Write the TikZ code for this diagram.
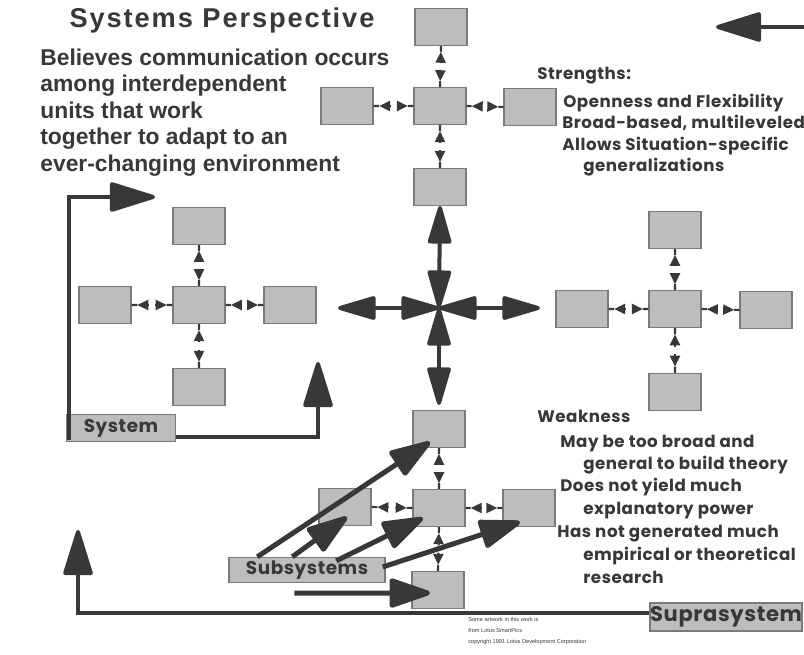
\documentclass[tikz,border=0pt]{standalone}
\usepackage{fontspec}
\setmainfont{Liberation Sans}
\newfontfamily\titlefont[LetterSpace=7]{Liberation Sans}
\newfontfamily\geo[LetterSpace=3]{Poppins}
\usetikzlibrary{arrows.meta,calc}

\definecolor{ink}{HTML}{383838}
\definecolor{unitfill}{HTML}{BDBDBD}
\definecolor{unitline}{HTML}{7A7A7A}

\tikzset{
  unit/.style={draw=unitline, fill=unitfill, line width=0.6pt,
    minimum width=1.04cm, minimum height=0.74cm, inner sep=0pt},
  tag/.style={draw=unitline, fill=unitfill, line width=0.8pt, inner sep=0pt, text=ink},
  thinlink/.style={draw=ink, line width=1.2pt},
  smalltip/.style={-{Triangle[length=0.22cm,width=0.2cm]}},
  arm/.style={draw=ink, line width=0.08cm,
    {Triangle[length=0.86cm,width=0.48cm,round]}-{Triangle[length=0.86cm,width=0.48cm,round]}},
  bigarrow/.style={draw=ink, line width=0.08cm,
    -{Triangle[length=1cm,width=0.6cm,round]}},
  subarrow/.style={draw=ink, line width=0.1cm,
    -{Triangle[length=0.92cm,width=0.6cm,round]}},
  body/.style={anchor=base west, inner sep=0pt, text=ink,
    font=\bfseries\fontsize{13}{15}\selectfont},
  note/.style={anchor=base west, inner sep=0pt, text=ink,
    font=\geo\bfseries\fontsize{9.5}{12}\selectfont},
}

% two facing arrowheads between two units, with a small break in the middle
\newcommand\twoway[2]{%
  \draw[thinlink] (#1) -- ($(#1)!0.14!(#2)$);
  \draw[thinlink,smalltip] ($(#1)!0.42!(#2)$) -- ($(#1)!0.14!(#2)$);
  \draw[thinlink,smalltip] ($(#1)!0.58!(#2)$) -- ($(#1)!0.86!(#2)$);
  \draw[thinlink] ($(#1)!0.86!(#2)$) -- (#2);}

\begin{document}
\begin{tikzpicture}[x=0.02cm, y=-0.02cm]
\useasboundingbox (0,0) rectangle (804,655);
\fill[white] (0,0) rectangle (804,655);

% upper cluster
\node[unit] (uC) at (440,106) {};
\node[unit] (uN) at (441,27) {};
\node[unit] (uW) at (347,106) {};
\node[unit] (uE) at (530,107) {};
\node[unit] (uS) at (440,187) {};
\twoway{uN.south}{uC.north}
\twoway{uC.south}{uS.north}
\twoway{uW.east}{uC.west}
\twoway{uC.east}{uE.west}

% left cluster
\node[unit] (lC) at (199,305) {};
\node[unit] (lN) at (199,226) {};
\node[unit] (lW) at (105,305) {};
\node[unit] (lE) at (290,305) {};
\node[unit] (lS) at (199,387) {};
\twoway{lN.south}{lC.north}
\twoway{lC.south}{lS.north}
\twoway{lW.east}{lC.west}
\twoway{lC.east}{lE.west}

% right cluster
\node[unit] (rC) at (675,309) {};
\node[unit] (rN) at (675,230) {};
\node[unit] (rW) at (582,309) {};
\node[unit] (rE) at (766,310) {};
\node[unit] (rS) at (675,392) {};
\twoway{rN.south}{rC.north}
\twoway{rC.south}{rS.north}
\twoway{rW.east}{rC.west}
\twoway{rC.east}{rE.west}

% lower cluster
\node[unit] (bC) at (439,508) {};
\node[unit] (bN) at (439,429) {};
\node[unit] (bW) at (345,507) {};
\node[unit] (bE) at (529,508) {};
\node[unit] (bS) at (438,590) {};
\twoway{bN.south}{bC.north}
\twoway{bC.south}{bS.north}
\twoway{bW.east}{bC.west}
\twoway{bC.east}{bE.west}

% central cross
\coordinate (hub) at (439,308);
\coordinate (armW) at (338,308);
\coordinate (armE) at (540,308);
\draw[arm] (armW) -- (hub);
\draw[arm] (hub) -- (armE);
\draw[arm] (uS.south) -- (hub);
\draw[arm, shorten >=0.1cm] (hub) -- (bN.north);

% system
\node[tag, minimum width=2.18cm, minimum height=0.54cm,
  font=\geo\bfseries\fontsize{10.5}{12}\selectfont] (sys) at (121,428) {System};
\coordinate (sysTip) at (155,197);
\coordinate (sysUp) at (318,362);
\draw[bigarrow] ([shift={(3,-2)}]sys.south west) |- (sysTip);
\draw[bigarrow] ([shift={(0,-5)}]sys.south east) -| (sysUp);

% suprasystem
\node[tag, minimum width=2.96cm, minimum height=0.56cm,
  font=\geo\bfseries\fontsize{12}{14}\selectfont] (sup) at (726,617) {Suprasystem};
\coordinate (supTip) at (78,530);
\draw[bigarrow] ([shift={(0,-4)}]sup.west) -| (supTip);
\coordinate (edgeR) at (804,27);
\coordinate (edgeTip) at (716,27);
\draw[bigarrow] (edgeR) -- (edgeTip);

% subsystems
\node[tag, minimum width=3.12cm, minimum height=0.5cm,
  font=\geo\bfseries\fontsize{10.5}{12}\selectfont] (sub) at (307,570) {Subsystems};
\draw[subarrow] ([shift={(29,0)}]sub.north west) -- ([shift={(-9,13)}]bN.center);
\draw[subarrow] ([shift={(64,0)}]sub.north west) -- ([shift={(2,10)}]bW.center);
\draw[subarrow] ([shift={(108,4)}]sub.north west) -- ([shift={(-16,10)}]bC.center);
\draw[subarrow] ([shift={(-3,-3)}]sub.east) -- ([shift={(-9,14)}]bE.center);
\draw[subarrow] ([shift={(66,10)}]sub.south west) -- ([shift={(-8,3)}]bS.center);

% heading and description
\node[text=ink, font=\titlefont\bfseries\fontsize{15.5}{18}\selectfont] (title) at (222,20) {Systems Perspective};
\node[body] (d1) at (40,66) {Believes communication occurs};
\node[body] (d2) at (40,92) {among interdependent};
\node[body] (d3) at (40,119) {units that work};
\node[body] (d4) at (40,145) {together to adapt to an};
\node[body] (d5) at (40,172) {ever-changing environment};

% strengths
\node[note] (st0) at (537,80) {Strengths:};
\node[note] (st1) at (563,108) {Openness and Flexibility};
\node[note] (st2) at (562,129) {Broad-based, multileveled};
\node[note] (st3) at (562,151) {Allows Situation-specific};
\node[note] (st4) at (583,172) {generalizations};

% weaknesses
\node[note] (wk0) at (537,422) {Weakness};
\node[note] (wk1) at (560,447) {May be too broad and};
\node[note] (wk2) at (583,469) {general to build theory};
\node[note] (wk3) at (560,491) {Does not yield much};
\node[note] (wk4) at (583,514) {explanatory power};
\node[note] (wk5) at (557,537) {Has not generated much};
\node[note] (wk6) at (583,560) {empirical or theoretical};
\node[note] (wk7) at (583,583) {research};

% credit line
\node[anchor=north west, align=left, inner sep=0pt, text=ink,
  font=\fontsize{3.2}{6.2}\selectfont] (credit) at (468,617)
  {Some artwork in this work is\\from Lotus SmartPics\\copyright 1991 Lotus Development Corporation};
\end{tikzpicture}
\end{document}
